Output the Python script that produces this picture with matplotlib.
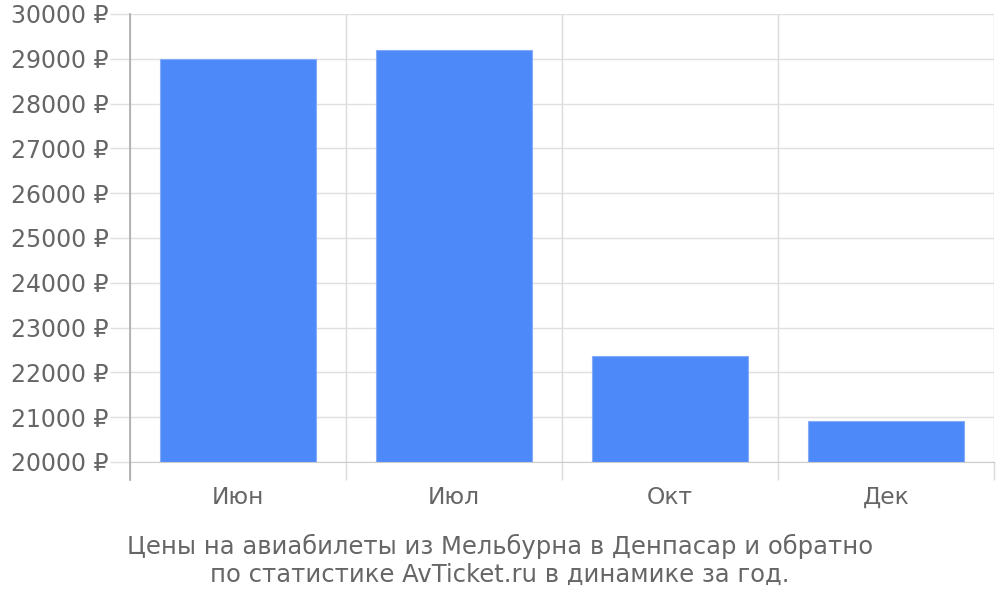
import numpy as np
import matplotlib.pyplot as plt
from matplotlib.ticker import FuncFormatter, FixedLocator

months = ['Июн', 'Июл', 'Окт', 'Дек']
prices = [29000, 29200, 22370, 20920]
y_ticks = list(range(20000, 30001, 1000))
caption = ('Цены на авиабилеты из Мельбурна в Денпасар и обратно\n'
           'по статистике AvTicket.ru в динамике за год.')

plt.rcParams['font.family'] = ['DejaVu Sans']
text_col = '#666666'
grid_col = '#e0e0e0'

fig = plt.figure(figsize=(10, 6), dpi=100)
ax = fig.add_axes([0.13, 0.23, 0.864, 0.7467])

x = np.arange(len(months))
ax.bar(x, np.array(prices) - 20000, bottom=20000, width=0.72,
       color='#4d89f9', edgecolor='#86acf8', linewidth=0.8, zorder=3)

ax.set_xlim(-0.5, len(months) - 0.5)
ax.set_ylim(20000, 30000)

# y axis
ax.set_yticks(y_ticks)
ax.yaxis.set_major_formatter(FuncFormatter(lambda v, p: '%d ₽' % v))
ax.tick_params(axis='y', length=14.4, width=1, color=grid_col, pad=1,
               labelsize=17, labelcolor=text_col)
ax.grid(axis='y', color=grid_col, linewidth=1, zorder=0)

# x axis: labels at centres, separators at boundaries
ax.set_xticks(x)
ax.set_xticklabels(months)
ax.tick_params(axis='x', which='major', length=0, pad=17,
               labelsize=16.8, labelcolor=text_col)
ax.xaxis.set_minor_locator(FixedLocator(np.arange(-0.5, len(months), 1)))
ax.tick_params(axis='x', which='minor', length=13, width=1, color='#dadada')
ax.grid(axis='x', which='minor', color='#dadada', linewidth=1, zorder=0)

for s in ['top', 'right', 'left']:
    ax.spines[s].set_visible(False)
ax.spines['bottom'].set_color('#cccccc')
ax.spines['bottom'].set_zorder(4)

# left axis line, running below the plot like the separators
ax.plot([0, 0], [-0.04, 1], transform=ax.transAxes, color='#aaaaaa',
        linewidth=1.2, clip_on=False, zorder=5)

fig.text(0.5, 0.022, caption, ha='center', va='bottom', fontsize=17.5,
         color=text_col, linespacing=1.2)

fig.savefig('out.png', dpi=100)
